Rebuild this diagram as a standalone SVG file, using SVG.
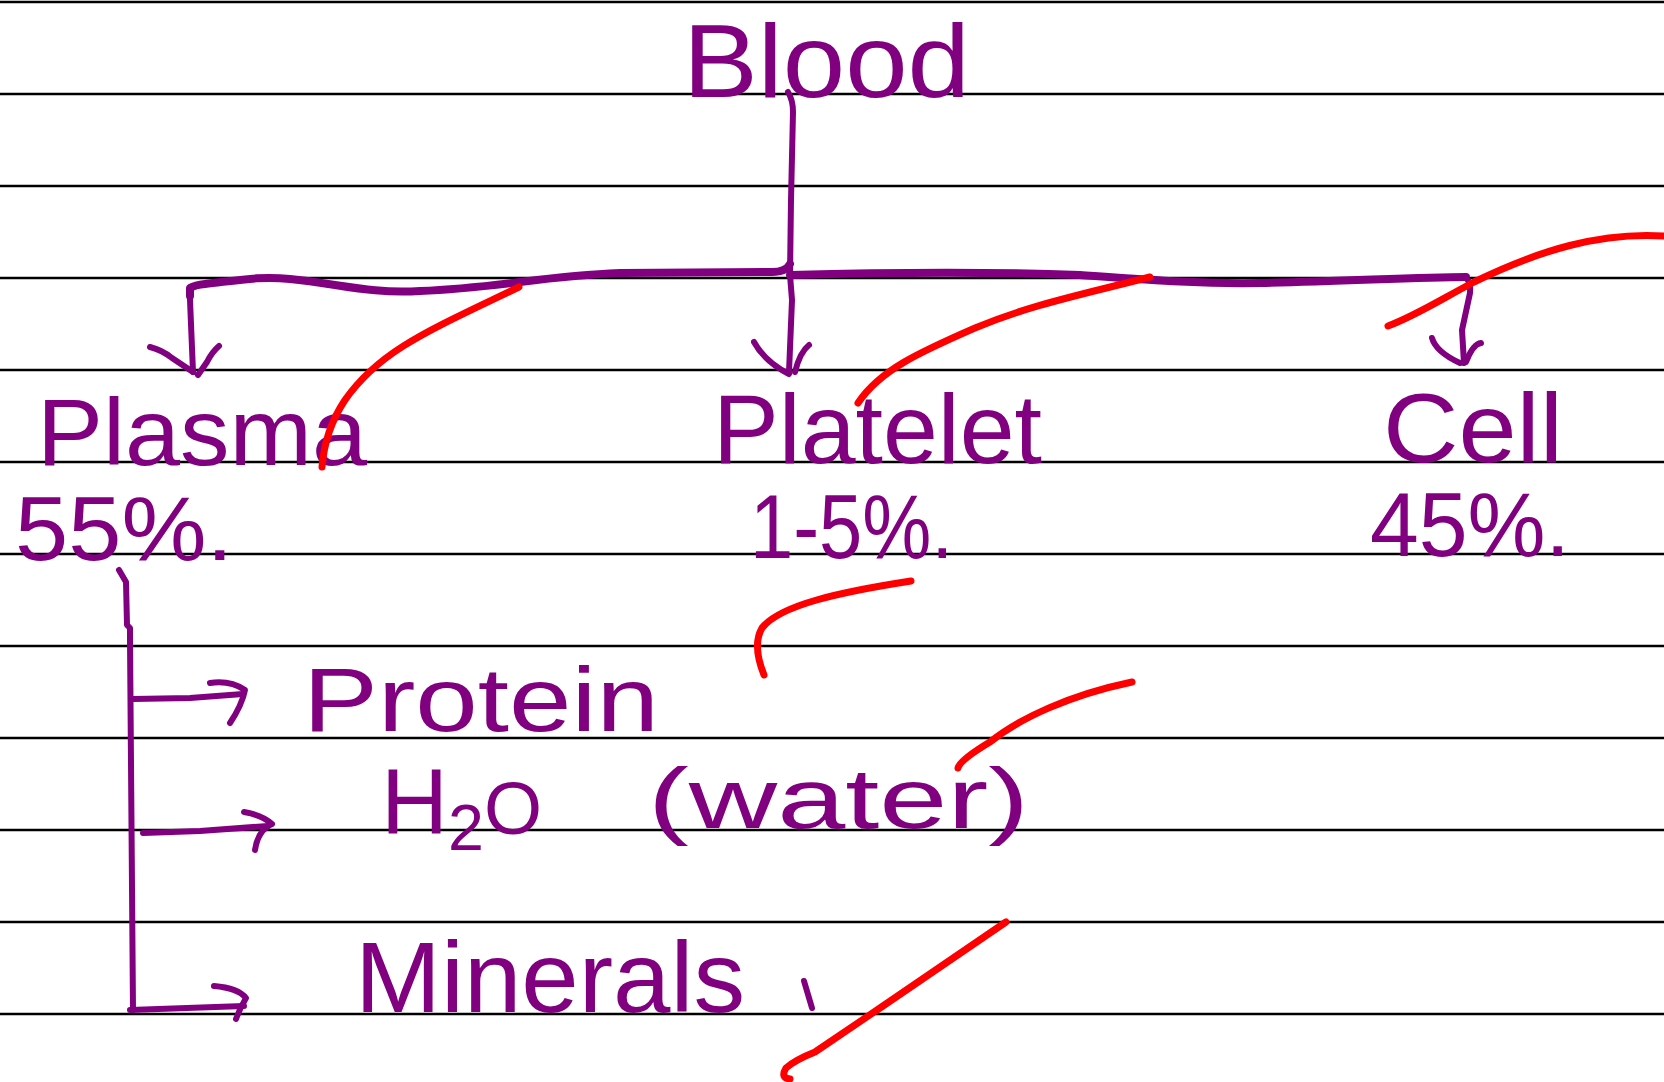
<svg xmlns="http://www.w3.org/2000/svg" width="1664" height="1082" viewBox="0 0 1664 1082">
<style>
.rule{stroke:#000;stroke-width:2.5}
.ink{fill:none;stroke:#800080;stroke-linecap:round;stroke-linejoin:round;stroke-width:6}
.bar{stroke-width:8}
.red{fill:none;stroke:#ff0000;stroke-linecap:round;stroke-linejoin:round;stroke-width:7}
.t{font-family:"Liberation Sans",Arial,sans-serif;fill:#800080}
</style>
<rect width="1664" height="1082" fill="#fff"/>
<g id="rules">
<line class="rule" x1="0" y1="2" x2="1664" y2="2"/>
<line class="rule" x1="0" y1="94" x2="1664" y2="94"/>
<line class="rule" x1="0" y1="186" x2="1664" y2="186"/>
<line class="rule" x1="0" y1="278" x2="1664" y2="278"/>
<line class="rule" x1="0" y1="370" x2="1664" y2="370"/>
<line class="rule" x1="0" y1="462" x2="1664" y2="462"/>
<line class="rule" x1="0" y1="554" x2="1664" y2="554"/>
<line class="rule" x1="0" y1="646" x2="1664" y2="646"/>
<line class="rule" x1="0" y1="738" x2="1664" y2="738"/>
<line class="rule" x1="0" y1="830" x2="1664" y2="830"/>
<line class="rule" x1="0" y1="922" x2="1664" y2="922"/>
<line class="rule" x1="0" y1="1014" x2="1664" y2="1014"/>
</g>
<g id="connectors">
<path class="ink" d="M788,92 Q793,100 793,112 L791,200 L790,275 L792,300 L789,372"/>
<path class="ink" d="M754,342 Q765,362 789,374 M809,345 Q800,352 795,372"/>
<path class="ink bar" d="M190,296 L190,288 Q195,285 205,284 C240,280 260,276 290,279 C340,284 370,294 420,291 C500,288 540,276 620,273 L772,272 Q786,272 790,264"/>
<path class="ink bar" d="M790,275 C900,272 1000,272 1080,275 C1150,280 1200,284 1260,283 C1350,281 1420,277 1466,277"/>
<path class="ink" d="M190,290 L190,300 L193,372"/>
<path class="ink" d="M150,347 Q162,350 172,358 L193,372 M219,346 Q212,352 207,362 L198,375"/>
<path class="ink" d="M1466,278 Q1471,282 1470,293 L1462,330 L1464,363"/>
<path class="ink" d="M1432,338 Q1436,352 1460,363 M1481,343 Q1473,344 1466,362"/>
<path class="ink" d="M119,570 L126,582 L127,625 L130,628 L130,640 L133,1010"/>
<path class="ink" d="M133,699 L190,698 L243,694"/>
<path class="ink" d="M210,683 Q230,680 245,690 Q242,705 230,723"/>
<path class="ink" d="M143,833 L200,831 L268,826"/>
<path class="ink" d="M244,812 Q262,815 272,824 Q258,830 255,850"/>
<path class="ink" d="M130,1010 L244,1006"/>
<path class="ink" d="M214,986 Q238,988 246,998 Q240,1008 236,1019"/>
</g>
<g id="blood"><text class="t" x="683" y="97" font-size="104" textLength="287" lengthAdjust="spacingAndGlyphs">Blood</text></g>
<g id="plasma"><text class="t" x="37" y="465" font-size="95" textLength="330" lengthAdjust="spacingAndGlyphs">Plasma</text></g>
<g id="plasma-pct"><text class="t" x="15" y="560" font-size="90" textLength="218" lengthAdjust="spacingAndGlyphs">55%.</text></g>
<g id="platelet"><text class="t" x="713" y="463" font-size="98" textLength="329" lengthAdjust="spacingAndGlyphs">Platelet</text></g>
<g id="platelet-pct"><text class="t" x="750" y="558" font-size="90" textLength="203" lengthAdjust="spacingAndGlyphs">1-5%.</text></g>
<g id="cell"><text class="t" x="1383" y="462" font-size="98" textLength="180" lengthAdjust="spacingAndGlyphs">Cell</text></g>
<g id="cell-pct"><text class="t" x="1370" y="556" font-size="90" textLength="200" lengthAdjust="spacingAndGlyphs">45%.</text></g>
<g id="protein"><text class="t" x="303" y="731" font-size="90" textLength="356" lengthAdjust="spacingAndGlyphs">Protein</text></g>
<g id="water">
<text class="t" x="381" y="834" font-size="92" textLength="161" lengthAdjust="spacingAndGlyphs">H<tspan font-size="64" dy="16">2</tspan><tspan font-size="74" dy="-16">O</tspan></text>
<text class="t" x="648" y="828" font-size="85" textLength="381" lengthAdjust="spacingAndGlyphs">(water)</text>
</g>
<g id="minerals">
<text class="t" x="355" y="1012" font-size="100" textLength="390" lengthAdjust="spacingAndGlyphs">Minerals</text>
<path class="ink" d="M804,981 L812,1008"/>
</g>
<g id="marks">
<path class="red" d="M519,287 C430,330 380,350 345,400 Q325,430 322,467"/>
<path class="red" d="M1150,277 C1080,295 1030,305 975,328 C920,352 880,370 858,403"/>
<path class="red" stroke-width="9" d="M1664,236 C1600,232 1540,250 1474,282 C1440,300 1415,316 1388,326"/>
<path class="red" d="M911,581 C840,592 780,605 762,628 Q752,645 764,675"/>
<path class="red" d="M1132,682 C1070,695 1020,718 990,742 Q960,760 958,768"/>
<path class="red" d="M1006,922 L880,1008 L815,1052 Q795,1060 786,1068 Q780,1078 790,1079"/>
</g>
</svg>
